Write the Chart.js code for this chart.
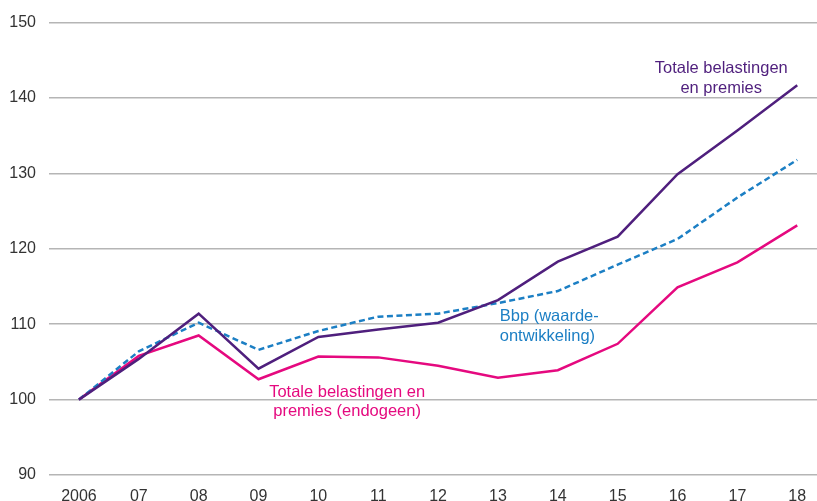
<!DOCTYPE html>
<html>
<head>
<meta charset="utf-8">
<script src="https://cdn.jsdelivr.net/npm/chart.js@4/dist/chart.umd.min.js"></script>
<style>
  body { margin: 0; background: #fff; }
  #wrap { width: 817px; height: 501px; }
</style>
</head>
<body>
<div id="wrap"><canvas id="myChart" width="817" height="501"></canvas></div>
<script>
// Index 2006 = 100
const years = ['2006', '07', '08', '09', '10', '11', '12', '13', '14', '15', '16', '17', '18'];
const totaal = [100, 105.4, 111.4, 104.1, 108.3, 109.3, 110.2, 113.2, 118.3, 121.6, 129.9, 135.7, 141.7];
const bbp = [100, 106.4, 110.2, 106.6, 109.1, 111.0, 111.4, 112.8, 114.4, 117.9, 121.3, 126.8, 131.8];
const endogeen = [100, 105.8, 108.5, 102.7, 105.7, 105.6, 104.5, 102.9, 103.9, 107.4, 114.9, 118.2, 123.1];
const yTicks = [90, 100, 110, 120, 130, 140, 150];

const PURPLE = '#4f1f7d';
const BLUE = '#1c7fc4';
const PINK = '#e5097f';
const FONT = '"Liberation Sans", Arial, sans-serif';

const toPoints = arr => arr.map((v, i) => ({ x: i, y: v }));

// text labels next to the lines, anchored in data coordinates
const notes = [
  { lines: ['Totale belastingen', 'en premies'], x: 10.73, y: 143.9, color: PURPLE, align: 'center' },
  { lines: ['Bbp (waarde-', 'ontwikkeling)'], x: 7.03, y: 111.0, color: BLUE, align: 'left' },
  { lines: ['Totale belastingen en', 'premies (endogeen)'], x: 4.48, y: 101.0, color: PINK, align: 'center' }
];

const notePlugin = {
  id: 'notes',
  afterDatasetsDraw(chart) {
    const { ctx, scales } = chart;
    ctx.save();
    ctx.font = '16.5px ' + FONT;
    ctx.textBaseline = 'middle';
    notes.forEach(n => {
      const px = scales.x.getPixelForValue(n.x);
      const py = scales.y.getPixelForValue(n.y);
      ctx.fillStyle = n.color;
      ctx.textAlign = n.align;
      n.lines.forEach((t, k) => ctx.fillText(t, px, py + k * 19.5));
    });
    ctx.restore();
  }
};

const ctx = document.getElementById('myChart');
new Chart(ctx, {
  type: 'line',
  data: {
    datasets: [
      { data: toPoints(totaal), borderColor: PURPLE, borderWidth: 2.5 },
      { data: toPoints(bbp), borderColor: BLUE, borderWidth: 2.5, borderDash: [6, 3.5] },
      { data: toPoints(endogeen), borderColor: PINK, borderWidth: 2.5 }
    ]
  },
  options: {
    responsive: false,
    animation: false,
    elements: { point: { radius: 0 }, line: { tension: 0, borderCapStyle: 'butt' } },
    layout: { padding: { top: 20, right: 0, bottom: 0, left: 0 } },
    plugins: { legend: { display: false }, tooltip: { enabled: false } },
    scales: {
      x: {
        type: 'linear',
        min: -0.5,
        max: 12.33,
        afterBuildTicks: s => { s.ticks = years.map((_, i) => ({ value: i })); },
        afterFit: s => { s.height = 26; s.paddingLeft = 0; s.paddingRight = 0; },
        grid: { display: false, drawTicks: false },
        border: { display: false },
        ticks: {
          callback: v => years[v],
          color: '#333',
          font: { family: FONT, size: 16 },
          padding: 12,
          maxRotation: 0,
          autoSkip: false
        }
      },
      y: {
        min: 90,
        max: 150,
        afterBuildTicks: s => { s.ticks = yTicks.map(v => ({ value: v })); },
        afterFit: s => { s.width = 49; },
        grid: { color: '#b5b5b5', lineWidth: 1.5, drawTicks: false },
        border: { display: false },
        ticks: {
          color: '#333',
          font: { family: FONT, size: 16 },
          padding: 13
        }
      }
    }
  },
  plugins: [notePlugin]
});
</script>
</body>
</html>
